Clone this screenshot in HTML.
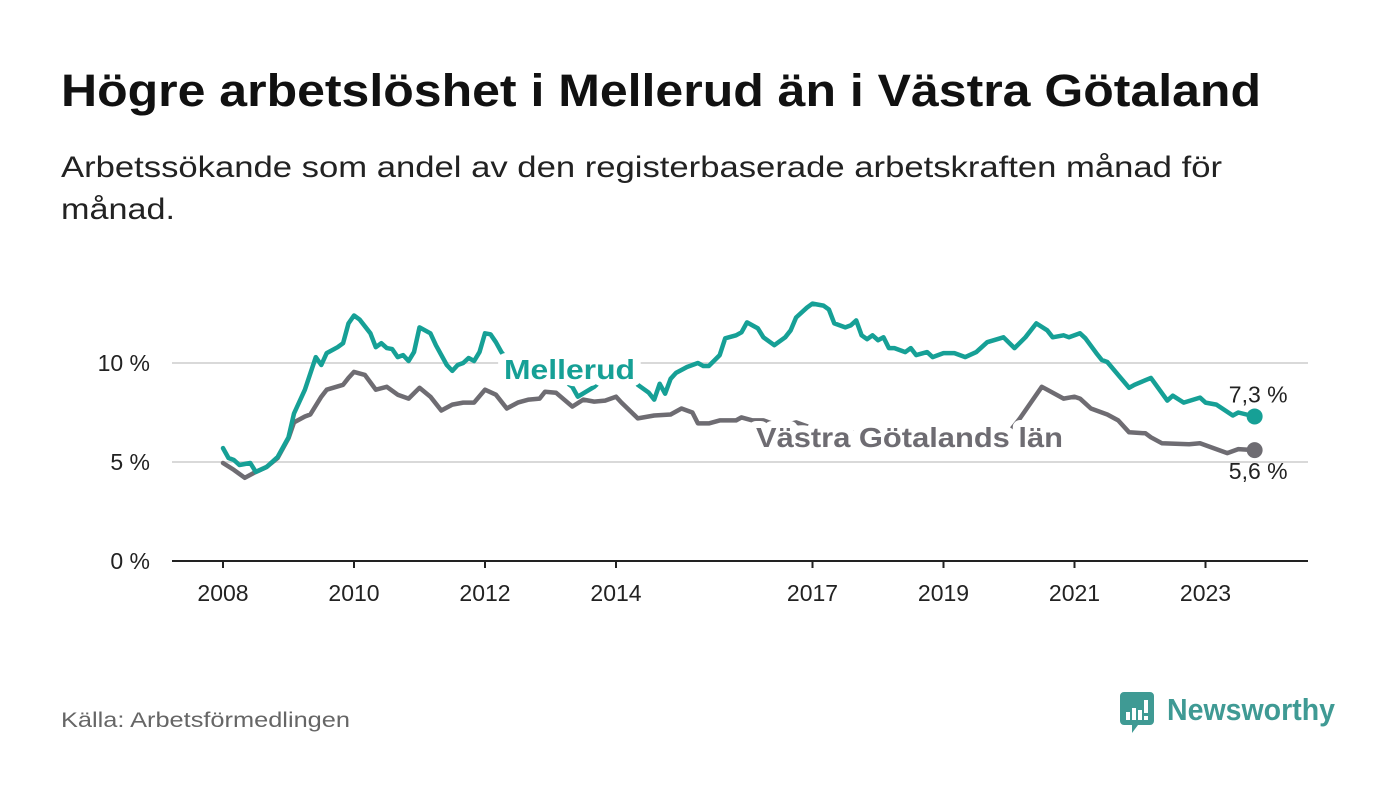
<!DOCTYPE html>
<html><head><meta charset="utf-8"><style>
body{margin:0;background:#fff;}
svg{display:block;font-family:"Liberation Sans",sans-serif;}
</style></head><body>
<svg width="1400" height="794" viewBox="0 0 1400 794">
<text x="61" y="106" font-size="45" font-weight="bold" fill="#111" textLength="1200" lengthAdjust="spacingAndGlyphs">Högre arbetslöshet i Mellerud än i Västra Götaland</text>
<text x="61" y="177" font-size="30" fill="#222" textLength="1161" lengthAdjust="spacingAndGlyphs">Arbetssökande som andel av den registerbaserade arbetskraften månad för</text>
<text x="61" y="219" font-size="30" fill="#222" textLength="114" lengthAdjust="spacingAndGlyphs">månad.</text>
<g id="grid"></g>
<g id="lines"></g>
<g id="labels"></g>
<text x="61" y="727" font-size="21" fill="#666" textLength="289" lengthAdjust="spacingAndGlyphs">Källa: Arbetsförmedlingen</text>
<g>
<path d="M1124 692 h26 a4 4 0 0 1 4 4 v25 a4 4 0 0 1 -4 4 h-12 l-6 8 v-8 h-8 a4 4 0 0 1 -4 -4 v-25 a4 4 0 0 1 4 -4z" fill="#3f9a94"/>
<rect x="1126" y="712" width="4" height="8" fill="#fff"/><rect x="1132" y="708" width="4" height="12" fill="#fff"/><rect x="1138" y="710" width="4" height="10" fill="#fff"/><rect x="1144" y="700" width="4" height="13" fill="#fff"/><rect x="1144" y="716" width="4" height="4" fill="#fff"/>
<text x="1167" y="720" font-size="31" font-weight="bold" fill="#3f9a94" textLength="168" lengthAdjust="spacingAndGlyphs">Newsworthy</text>
</g>
</svg>
<script>
const yTicks=[0,5,10];
const yTickLabels=["0 %","5 %","10 %"];
const xTicks=[2008,2010,2012,2014,2017,2019,2021,2023];
const mellMonths=[0,1,2,3,5,6,8,10,12,13,15,17,18,19,21,22,23,24,25,27,28,29,30,31,32,33,34,35,36,38,39,41,42,43,44,45,46,47,48,49,50,51,52,55,58,61,63,64,65,68,70,73,75,76,78,79,80,81,82,83,85,87,88,89,91,92,94,95,96,98,99,101,103,104,105,107,108,110,111,112,114,115,116,117,118,119,120,121,122,123,125,126,127,129,130,132,134,136,138,140,143,145,147,149,151,152,154,155,157,158,160,161,162,164,166,167,170,173,174,176,179,180,182,185,186,189];
const mellValues=[5.7,5.2,5.1,4.85,4.95,4.5,4.75,5.25,6.25,7.45,8.65,10.3,9.9,10.5,10.8,11.0,12.0,12.4,12.2,11.5,10.8,11.0,10.75,10.7,10.3,10.4,10.1,10.55,11.8,11.5,10.9,9.9,9.6,9.9,10.0,10.25,10.1,10.55,11.5,11.45,11.05,10.55,10.2,9.7,9.5,9.3,9.0,8.8,8.3,8.8,9.3,9.6,9.5,8.9,8.5,8.15,8.95,8.45,9.2,9.5,9.8,10.0,9.85,9.85,10.4,11.25,11.4,11.55,12.05,11.75,11.3,10.9,11.3,11.65,12.3,12.8,13.0,12.9,12.7,12.0,11.8,11.9,12.15,11.4,11.2,11.4,11.15,11.3,10.75,10.75,10.55,10.75,10.4,10.55,10.3,10.5,10.5,10.3,10.55,11.05,11.3,10.75,11.3,12.0,11.65,11.3,11.4,11.3,11.5,11.25,10.5,10.15,10.05,9.4,8.75,8.9,9.25,8.1,8.35,8.0,8.25,8.0,7.9,7.35,7.5,7.3];
const vgMonths=[0,2,4,6,8,10,12,13,15,16,18,19,22,23,24,26,28,30,32,34,36,38,40,42,44,46,48,50,52,54,56,58,59,61,64,66,68,70,72,73,76,79,82,84,86,87,89,91,94,95,97,99,102,105,108,111,114,117,120,123,126,129,132,135,138,141,144,146,150,151,154,156,157,159,162,164,166,169,170,172,177,179,180,184,186,189];
const vgValues=[4.95,4.6,4.2,4.5,4.75,5.2,6.2,7.0,7.3,7.4,8.3,8.65,8.9,9.25,9.55,9.4,8.65,8.8,8.4,8.2,8.75,8.3,7.6,7.9,8.0,8.0,8.65,8.4,7.7,8.0,8.15,8.2,8.55,8.5,7.8,8.15,8.05,8.1,8.3,8.0,7.2,7.35,7.4,7.7,7.5,6.95,6.95,7.1,7.1,7.25,7.1,7.1,6.8,7.0,6.7,6.6,6.5,6.5,6.4,6.4,6.4,6.3,6.4,6.4,6.4,6.4,6.5,7.2,8.8,8.65,8.2,8.3,8.2,7.7,7.4,7.1,6.5,6.45,6.25,5.95,5.9,5.95,5.85,5.45,5.65,5.6];
const mellLast="7,3 %", vgLast="5,6 %";

const NS="http://www.w3.org/2000/svg";
const xOfYear=y=>223+(y-2008)*65.5;
const xOfMonth=m=>xOfYear(2008+m/12);
const yOf=v=>561-v*19.8;
function mk(tag,attrs,parent,text){const e=document.createElementNS(NS,tag);for(const k in attrs)e.setAttribute(k,attrs[k]);if(text!==undefined)e.textContent=text;parent.appendChild(e);return e;}
const grid=document.getElementById('grid'),lines=document.getElementById('lines'),labels=document.getElementById('labels');
yTicks.forEach((t,i)=>{
  if(t>0){const g=mk('line',{x1:172,x2:1308,y1:yOf(t),y2:yOf(t),stroke:'#d9d9d9','stroke-width':2},grid);
  
  }
  const l=mk('text',{x:150,y:yOf(t)+8,'font-size':23,fill:'#222','text-anchor':'end'},grid,yTickLabels[i]);
  
  
});
xTicks.forEach(t=>{
  const x=xOfYear(t);
  const tk=mk('line',{x1:x,x2:x,y1:561,y2:568,stroke:'#222','stroke-width':2},grid);
  
  
  const l=mk('text',{x:x,y:601,'font-size':23,fill:'#222','text-anchor':'middle'},grid,String(t));
  
  
});
const ax=mk('line',{x1:172,x2:1308,y1:561,y2:561,stroke:'#222','stroke-width':2},grid);


function series(ms,vs,color,name){
  const d=ms.map((m,i)=>(i?'L':'M')+xOfMonth(m).toFixed(1)+' '+yOf(vs[i]).toFixed(1)).join(' ');
  const p=mk('path',{d:d,fill:'none',stroke:color,'stroke-width':4.5,'stroke-linejoin':'round','stroke-linecap':'round'},lines);
  
  
  const n=ms.length-1;
  const c=mk('circle',{cx:xOfMonth(ms[n]),cy:yOf(vs[n]),r:8,fill:color},lines);
  
  
}
series(vgMonths,vgValues,'#6e6c72','vastra-gotaland');
series(mellMonths,mellValues,'#16a096','mellerud');
const mn=mellMonths.length-1, vn=vgMonths.length-1;
const e1=mk('text',{x:xOfMonth(mellMonths[mn])+33,y:yOf(mellValues[mn])-14,'font-size':23,fill:'#222','text-anchor':'end'},labels,mellLast);


const e2=mk('text',{x:xOfMonth(vgMonths[vn])+33,y:yOf(vgValues[vn])+29,'font-size':23,fill:'#222','text-anchor':'end'},labels,vgLast);


const l1=mk('text',{x:504,y:379,'font-size':28,'font-weight':'bold',fill:'#16a096',stroke:'#fff','stroke-width':14,'paint-order':'stroke','stroke-linejoin':'round',textLength:131,lengthAdjust:'spacingAndGlyphs'},labels,'Mellerud');


const l2=mk('text',{x:756,y:447,'font-size':28,'font-weight':'bold',fill:'#6e6c72',stroke:'#fff','stroke-width':14,'paint-order':'stroke','stroke-linejoin':'round',textLength:307,lengthAdjust:'spacingAndGlyphs'},labels,'Västra Götalands län');


</script>
</body></html>
